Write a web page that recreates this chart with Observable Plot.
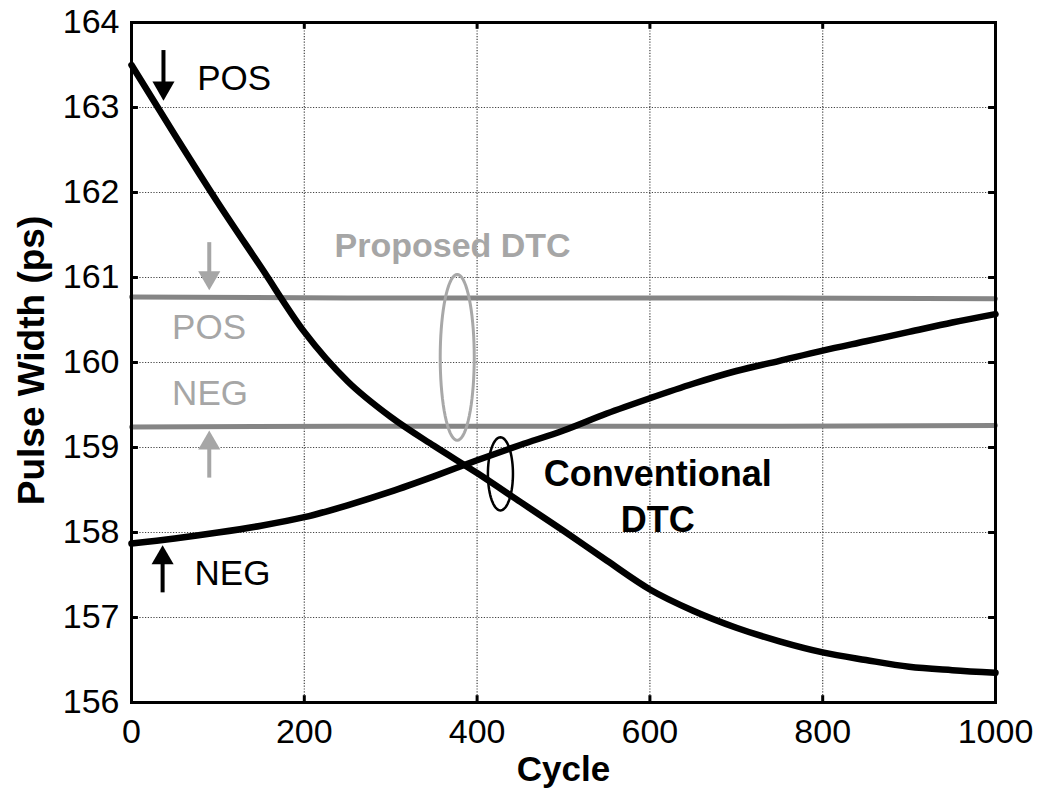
<!DOCTYPE html>
<html>
<head>
<meta charset="utf-8">
<script src="https://cdn.jsdelivr.net/npm/d3@7"></script>
<script src="https://cdn.jsdelivr.net/npm/@observablehq/plot@0.6"></script>
<style>
  html, body { margin: 0; padding: 0; background: #fff; }
  #chart svg { display: block; }
</style>
</head>
<body>
<div id="chart"></div>
<script>
// ---- data ----
const cycles = [0, 50, 100, 150, 200, 250, 300, 350, 400, 450, 500, 550, 600, 650, 700, 750, 800, 850, 900, 950, 1000];
const conventionalPos = [163.5, 162.68, 161.88, 161.12, 160.36, 159.78, 159.36, 159.02, 158.7, 158.36, 158.02, 157.67, 157.33, 157.08, 156.88, 156.72, 156.59, 156.5, 156.42, 156.38, 156.35];
const conventionalNeg = [157.87, 157.93, 158.0, 158.08, 158.18, 158.32, 158.48, 158.66, 158.85, 159.03, 159.2, 159.4, 159.58, 159.75, 159.9, 160.02, 160.14, 160.25, 160.36, 160.47, 160.57];
const proposedCycles = [0, 250, 500, 750, 1000];
const proposedPos = [160.77, 160.76, 160.76, 160.76, 160.75];
const proposedNeg = [159.24, 159.25, 159.25, 159.25, 159.26];

const xTicks = [0, 200, 400, 600, 800, 1000];
const yTicks = [156, 157, 158, 159, 160, 161, 162, 163, 164];

// annotation labels (data coordinates)
const labels = [
  {x: 76, y: 163.38, text: "POS", color: "#000", weight: "normal", size: 35, anchor: "start"},
  {x: 73, y: 157.55, text: "NEG", color: "#000", weight: "normal", size: 35, anchor: "start"},
  {x: 47, y: 160.44, text: "POS", color: "#a6a6a6", weight: "normal", size: 35, anchor: "start"},
  {x: 47, y: 159.67, text: "NEG", color: "#a6a6a6", weight: "normal", size: 35, anchor: "start"},
  {x: 235, y: 161.41, text: "Proposed DTC", color: "#a6a6a6", weight: "bold", size: 34, anchor: "start"},
  {x: 609, y: 158.45, text: "Conventional\nDTC", color: "#000", weight: "bold", size: 36, anchor: "middle"}
];

// arrows: x, shaft start, tip, direction
const arrows = [
  {x: 37, from: 163.67, tip: 163.08, dir: "down", color: "#000"},
  {x: 36, from: 157.29, tip: 157.85, dir: "up", color: "#000"},
  {x: 90, from: 161.41, tip: 160.85, dir: "down", color: "#a6a6a6"},
  {x: 90, from: 158.64, tip: 159.2, dir: "up", color: "#a6a6a6"}
];

// ellipses grouping the curves: center and radii in data units
const ellipses = [
  {cx: 377, cy: 160.06, rx: 19.7, ry: 0.976, color: "#a8a8a8", width: 3},
  {cx: 427, cy: 158.69, rx: 14.5, ry: 0.43, color: "#000", width: 2.5}
];

// ---- build tables ----
const conv = cycles.flatMap((c, i) => [
  {cycle: c, value: conventionalPos[i], series: "convPos"},
  {cycle: c, value: conventionalNeg[i], series: "convNeg"}
]);
const prop = proposedCycles.flatMap((c, i) => [
  {cycle: c, value: proposedPos[i], series: "propPos"},
  {cycle: c, value: proposedNeg[i], series: "propNeg"}
]);
const ellipsePts = ellipses.flatMap((e, k) =>
  d3.range(0, 73).map(j => {
    const t = (j / 72) * 2 * Math.PI;
    return {x: e.cx + e.rx * Math.cos(t), y: e.cy + e.ry * Math.sin(t), k, color: e.color, width: e.width};
  })
);
const headDy = 12.7;
const shaftLen = 0.2;

const font = "'Liberation Sans', Arial, Helvetica, sans-serif";

const chart = Plot.plot({
  width: 1043,
  height: 797,
  marginLeft: 131,
  marginRight: 48,
  marginTop: 22,
  marginBottom: 95,
  style: {fontFamily: font, background: "#fff", color: "#000"},
  x: {domain: [0, 1000], ticks: xTicks},
  y: {domain: [156, 164], ticks: yTicks},
  marks: [
    // dotted grid
    Plot.gridX(xTicks.slice(1, -1), {stroke: "#444", strokeOpacity: 1, strokeWidth: 1.2, strokeDasharray: "1.2,1.6"}),
    Plot.gridY(yTicks.slice(1, -1), {stroke: "#444", strokeOpacity: 1, strokeWidth: 1.2, strokeDasharray: "1.2,1.6"}),
    // inside ticks
    Plot.ruleX(xTicks, {x: d => d, y1: 156, y2: 156.08, stroke: "#000", strokeWidth: 3}),
    Plot.ruleX(xTicks, {x: d => d, y1: 163.92, y2: 164, stroke: "#000", strokeWidth: 3}),
    Plot.ruleY(yTicks, {y: d => d, x1: 0, x2: 8, stroke: "#000", strokeWidth: 3}),
    Plot.ruleY(yTicks, {y: d => d, x1: 992, x2: 1000, stroke: "#000", strokeWidth: 3}),
    // proposed DTC (grey)
    Plot.line(prop, {x: "cycle", y: "value", z: "series", stroke: "#858585", strokeWidth: 5}),
    // conventional DTC (black)
    Plot.line(conv, {x: "cycle", y: "value", z: "series", stroke: "#000", strokeWidth: 6.5, curve: "monotone-x"}),
    // ellipses
    Plot.line(ellipsePts, {x: "x", y: "y", z: "k", stroke: "color", strokeWidth: "width", curve: "linear"}),
    // arrows: shafts + triangular heads
    Plot.ruleX(arrows, {x: "x", y1: "from", y2: d => d.dir === "down" ? d.tip + shaftLen : d.tip - shaftLen, stroke: "color", strokeWidth: 4}),
    Plot.dot(arrows.filter(a => a.dir === "down"), {x: "x", y: "tip", symbol: "triangle", r: 8.2, fill: "color", stroke: "none", rotate: 180, dy: -headDy}),
    Plot.dot(arrows.filter(a => a.dir === "up"), {x: "x", y: "tip", symbol: "triangle", r: 8.2, fill: "color", stroke: "none", dy: headDy}),
    // labels
    ...labels.map(l => Plot.text([l], {x: "x", y: "y", text: "text", fill: l.color, fontWeight: l.weight, fontSize: l.size, textAnchor: l.anchor, lineHeight: 1.28})),
    // frame
    Plot.frame({stroke: "#000", strokeWidth: 3}),
    // axes
    Plot.axisX(xTicks, {tickSize: 0, tickPadding: 16, fontSize: 34, label: null, tickFormat: d => String(d)}),
    Plot.axisY(yTicks, {tickSize: 0, tickPadding: 12, fontSize: 34, label: null, tickFormat: d => String(d)}),
    Plot.text(["Cycle"], {frameAnchor: "bottom", dy: 78, fontSize: 35, fontWeight: "bold"}),
    Plot.text(["Pulse Width (ps)"], {frameAnchor: "left", dx: -99, dy: -2, rotate: -90, textAnchor: "middle", fontSize: 37, fontWeight: "bold"})
  ]
});
document.getElementById("chart").appendChild(chart);
</script>
</body>
</html>
